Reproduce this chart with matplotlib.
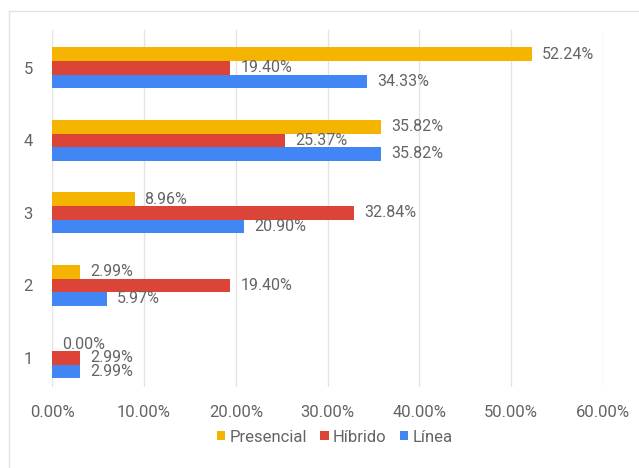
import matplotlib
matplotlib.use("Agg")
import matplotlib.pyplot as plt
from matplotlib.lines import Line2D
from matplotlib.patches import Patch
import numpy as np

plt.rcParams['font.family'] = ['Roboto', 'DejaVu Sans']

categories = [1, 2, 3, 4, 5]
series_names = ["Presencial", "Híbrido", "Línea"]
presencial = [0.00, 2.99, 8.96, 35.82, 52.24]
hibrido = [2.99, 19.40, 32.84, 25.37, 19.40]
linea = [2.99, 5.97, 20.90, 35.82, 34.33]
x_ticks = [0, 10, 20, 30, 40, 50, 60]
x_tick_labels = ["0.00%", "10.00%", "20.00%", "30.00%", "40.00%", "50.00%", "60.00%"]

colors = ["#F4B400", "#DB4437", "#4285F4"]
text_color = "#646464"

fig = plt.figure(figsize=(6.39, 4.68), dpi=100)
ax = fig.add_axes([0.0818, 0.1731, 0.9437 - 0.0818, 0.9359 - 0.1731])

bar_h = 0.187
y = np.array(categories, dtype=float)
offsets = [bar_h, 0.0, -bar_h]
all_series = [presencial, hibrido, linea]

for vals, off, col, name in zip(all_series, offsets, colors, series_names):
    ax.barh(y + off, vals, height=bar_h, color=col, label=name, zorder=2)

# value annotations after each bar
for vals, off in zip(all_series, offsets):
    for yi, v in zip(y, vals):
        ax.text(v + 1.1, yi + off, f"{v:.2f}%", va="center", ha="left",
                fontsize=11.5, color=text_color, zorder=3)

ax.set_xlim(0, 60)
ax.set_ylim(0.6, 5.52)
ax.set_xticks(x_ticks)
ax.set_xticklabels(x_tick_labels)
ax.set_yticks(categories)
ax.set_yticklabels([str(c) for c in categories])
ax.tick_params(axis="x", length=0, pad=13, labelsize=12, labelcolor=text_color)
ax.tick_params(axis="y", length=0, pad=14, labelsize=12, labelcolor=text_color)
ax.grid(axis="x", color="#e4e4e4", linewidth=1, zorder=0)
ax.set_axisbelow(True)
for s in ax.spines.values():
    s.set_visible(False)

handles = [Patch(facecolor=c, edgecolor="none") for c in colors]
fig.legend(handles, series_names, loc="center", bbox_to_anchor=(0.524, 0.066),
           ncol=3, frameon=False, fontsize=12, handlelength=0.5,
           handleheight=0.5, handletextpad=0.25, columnspacing=0.8,
           labelcolor=text_color)

# light frame along the left and top edges
fig.add_artist(Line2D([9 / 639, 9 / 639], [0, 1 - 11 / 468], color="#e2e2e2", lw=1))
fig.add_artist(Line2D([9 / 639, 1], [1 - 11 / 468, 1 - 11 / 468], color="#e2e2e2", lw=1))

fig.savefig("out.png", dpi=100, facecolor="white")
